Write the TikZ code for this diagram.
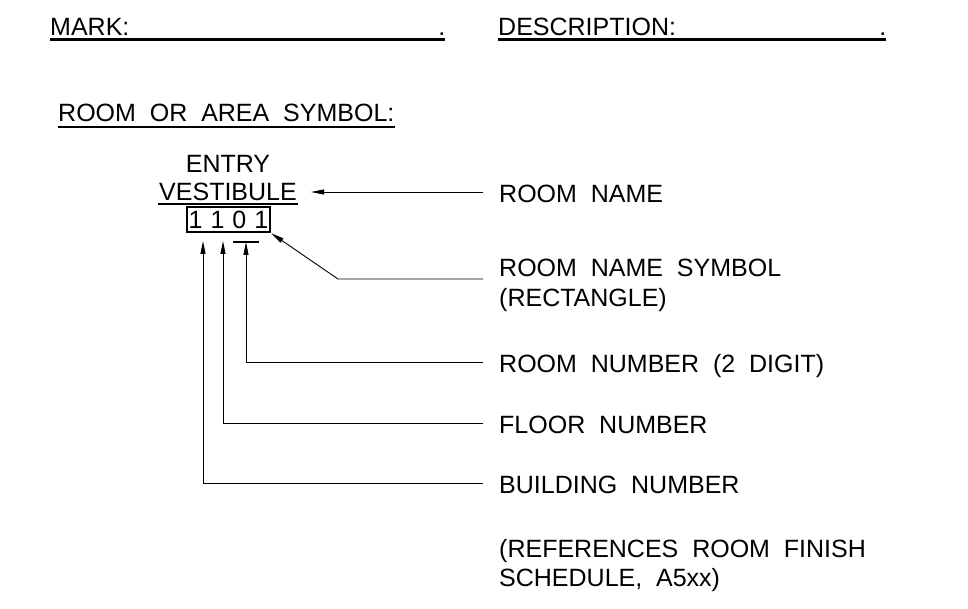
\documentclass[tikz,border=0pt]{standalone}
\usepackage{fontspec}
\setmainfont{Liberation Sans}
\usetikzlibrary{arrows.meta}
\newcommand{\wsp}{\ \ }
\tikzset{
  lbl/.style     = {font=\fontsize{25}{29}\selectfont,inner sep=0pt},
  tagtxt/.style  = {lbl,anchor=west,inner xsep=16pt,text height=21pt,text depth=0pt},
  leadarr/.style = {-{Triangle[length=13pt,width=5pt]},line width=0.9pt},
  heavyln/.style = {line width=2.6pt}
}
\newcommand{\hdr}[4]{%
  \node[lbl,anchor=base west] (#1) at (#2,36) {\makebox[#3pt][l]{#4\hfill.}};
  \draw[heavyln] ([yshift=-3.5pt]#1.base west) -- ([yshift=-3.5pt]#1.base east);
}

\begin{document}
\begin{tikzpicture}[x=1pt,y=-1pt]
  \useasboundingbox (0,0) rectangle (968,609);
  \hdr{markhd}{50}{395}{MARK:}
  \hdr{deschd}{498}{388}{DESCRIPTION:}
  \node[lbl,anchor=base west] (symhd) at (58,122) {ROOM\wsp OR\wsp AREA\wsp SYMBOL:};
  \draw[line width=2pt] ([yshift=-5pt]symhd.base west) -- ([yshift=-5pt]symhd.base east);
  % room tag
  \node[lbl,anchor=base] (entry) at (228,173) {ENTRY};
  \node[lbl,anchor=base] (vest) at (228,201) {VESTIBULE};
  \draw[line width=2pt] ([xshift=-1pt,yshift=-3pt]vest.base west) -- ([xshift=1pt,yshift=-3pt]vest.base east);
  \node[lbl,draw,line width=2.4pt,minimum width=83pt,minimum height=25pt] (roomno) at (228.5,219.5) {1\kern8pt 1\kern8pt 0\kern8pt 1};
  \coordinate (barl) at (233,242);
  \coordinate (barr) at (259,242);
  \draw[line width=2pt] (barl) -- (barr);
  % labels (base of a two-line node is its last line)
  \node[tagtxt] (lbname) at (483,192) {ROOM\wsp NAME};
  \node[lbl,anchor=base west,align=left] (lbsym) at (499,306) {ROOM\wsp NAME\wsp SYMBOL\\(RECTANGLE)};
  \node[tagtxt] (lbnum) at (483,362) {ROOM\wsp NUMBER\wsp (2\wsp DIGIT)};
  \node[tagtxt] (lbfloor) at (483,423) {FLOOR\wsp NUMBER};
  \node[tagtxt] (lbbldg) at (483,483) {BUILDING\wsp NUMBER};
  \node[lbl,anchor=base west,align=left] (lbref) at (499,586) {(REFERENCES\wsp ROOM\wsp FINISH\\SCHEDULE,\wsp A5xx)};
  % leaders
  \coordinate (nametip) at (311,192);
  \coordinate (symbend) at (338,279);
  \coordinate (numtip) at (246,242);
  \coordinate (floortip) at (223,241);
  \coordinate (bldgtip) at (203,241);
  \draw[leadarr] (lbname.west) -- (nametip);
  \draw[leadarr] ([xshift=-16pt,yshift=27pt]lbsym.base west) -- (symbend) -- (roomno.south east);
  \draw[leadarr] (lbnum.west) -| (numtip);
  \draw[leadarr] (lbfloor.west) -| (floortip);
  \draw[leadarr] (lbbldg.west) -| (bldgtip);
\end{tikzpicture}
\end{document}
